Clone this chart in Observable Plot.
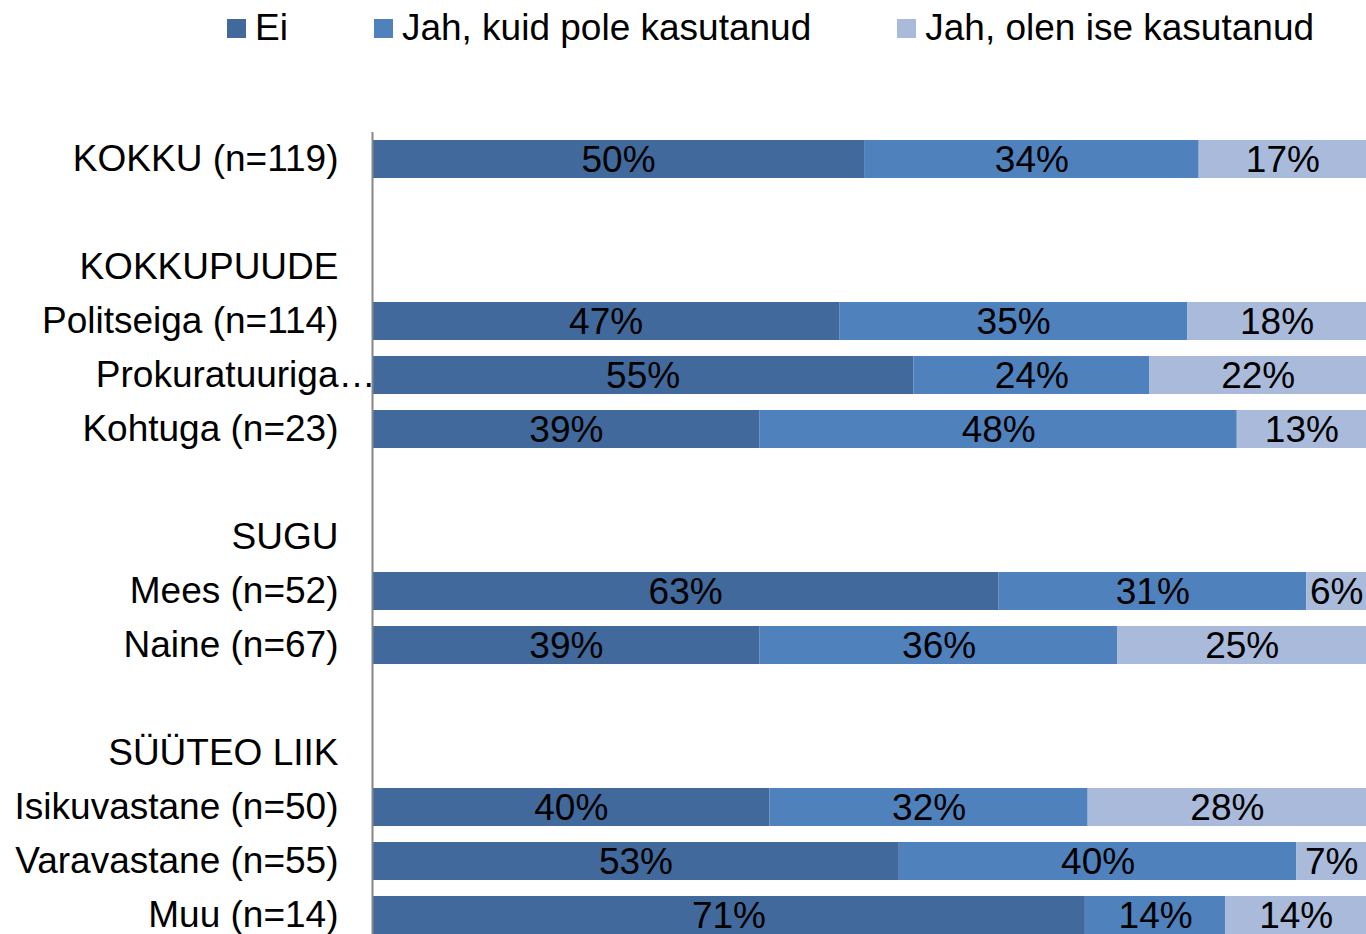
<!DOCTYPE html>
<html>
<head>
<meta charset="utf-8">
<script src="https://cdn.jsdelivr.net/npm/d3@7"></script>
<script src="https://cdn.jsdelivr.net/npm/@observablehq/plot@0.6"></script>
<style>
  html, body { margin: 0; padding: 0; background: #fff; overflow: hidden; }
  body { width: 1366px; height: 934px; font-family: "Liberation Sans", Arial, sans-serif; }
  #legend { height: 60px; box-sizing: border-box; padding-top: 0px; padding-left: 227px;
    display: flex; gap: 86px; font-size: 37px; line-height: 37px; color: #000; }
  .item { display: flex; align-items: center; white-space: nowrap; position: relative; top: -3px; }
  .sw { width: 19px; height: 19px; margin-right: 9px; display: inline-block; position: relative; top: 1px; }
  #chart svg { display: block; }
</style>
</head>
<body>
<div id="legend"></div>
<div id="chart"></div>
<script>
// All rows in display order (headers and spacer rows have no bars)
const rows = ["KOKKU (n=119)", "_gap1", "KOKKUPUUDE", "Politseiga (n=114)", "Prokuratuuriga…", "Kohtuga (n=23)",
  "_gap2", "SUGU", "Mees (n=52)", "Naine (n=67)", "_gap3", "SÜÜTEO LIIK",
  "Isikuvastane (n=50)", "Varavastane (n=55)", "Muu (n=14)"];
// Rows that carry bars
const barRows = ["KOKKU (n=119)", "Politseiga (n=114)", "Prokuratuuriga…", "Kohtuga (n=23)",
  "Mees (n=52)", "Naine (n=67)", "Isikuvastane (n=50)", "Varavastane (n=55)", "Muu (n=14)"];
const seriesNames = ["Ei", "Jah, kuid pole kasutanud", "Jah, olen ise kasutanud"];
const ei       = [50, 47, 55, 39, 63, 39, 40, 53, 71];
const jahPole  = [34, 35, 24, 48, 31, 36, 32, 40, 14];
const jahIse   = [17, 18, 22, 13, 6, 25, 28, 7, 14];
const colors = ["#41699B", "#4F81BD", "#A9BADA"];

const seriesValues = [ei, jahPole, jahIse];
const data = [];
barRows.forEach((r, i) => {
  seriesNames.forEach((s, j) => data.push({row: r, series: s, value: seriesValues[j][i]}));
});

// Legend
const legend = document.getElementById("legend");
seriesNames.forEach((s, j) => {
  const it = document.createElement("div");
  it.className = "item";
  it.innerHTML = `<span class="sw" style="background:${colors[j]}"></span><span>${s}</span>`;
  legend.appendChild(it);
});

const labelRows = rows.filter(r => !r.startsWith("_") && r !== "Prokuratuuriga…");

const chart = Plot.plot({
  width: 1366,
  height: 882,
  marginLeft: 372,
  marginRight: 0,
  marginTop: 72,
  marginBottom: 0,
  style: {fontFamily: "'Liberation Sans', Arial, sans-serif", fontSize: "37px", color: "#000", background: "#fff"},
  x: {domain: [0, 1], axis: null},
  y: {domain: rows, axis: null, paddingInner: 0.3, paddingOuter: 0.15},
  color: {domain: seriesNames, range: colors},
  marks: [
    Plot.barX(data, Plot.stackX({x: "value", y: "row", fill: "series", offset: "normalize", order: seriesNames})),
    Plot.text(data, Plot.stackX({x: "value", y: "row", z: "series", text: d => d.value + "%", offset: "normalize",
      order: seriesNames, fill: "#000", fontSize: 37, dy: 1})),
    Plot.ruleX([0], {stroke: "#868686", strokeWidth: 2}),
    Plot.text(labelRows, {x: () => 0, y: d => d, text: d => d, textAnchor: "end", dx: -34, fill: "#000", fontSize: 37}),
    Plot.text(["Prokuratuuriga…"], {x: () => 0, y: d => d, text: d => d, textAnchor: "end", dx: 3, fill: "#000", fontSize: 37})
  ]
});
document.getElementById("chart").appendChild(chart);
</script>
</body>
</html>
